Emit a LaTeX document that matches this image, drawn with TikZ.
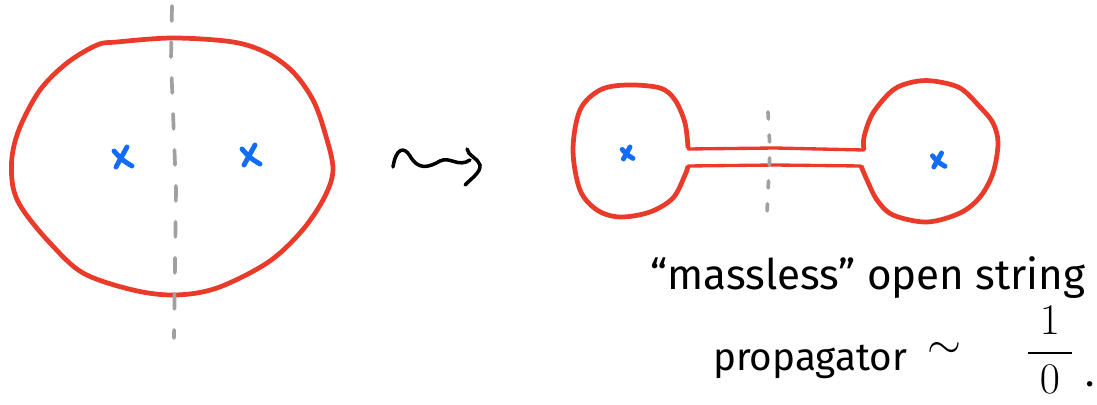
\documentclass[tikz,border=0pt]{standalone}
\usepackage{amsmath}
\usepackage{fontspec}
\setmainfont{Fira Sans}
\usepackage{tikz}
\usetikzlibrary{calc}
\definecolor{sheetred}{RGB}{234,58,42}
\definecolor{insblue}{RGB}{18,108,250}
\definecolor{cutgray}{RGB}{160,160,160}
\tikzset{
  sheet/.style={
    draw=sheetred,
    line width=2.7pt,
    line join=round
  },
  tube/.style={
    draw=sheetred,
    line width=1.9pt,
    line cap=round
  },
  cut line/.style={
    draw=cutgray,
    line width=2.1pt,
    line cap=round,
    dash pattern=on 0.3cm off 0.42cm
  },
  insertion/.style={
    draw=insblue,
    line width=2.8pt,
    line cap=round
  },
  squiggle/.style={
    draw=black,
    line width=2pt,
    line cap=round,
    line join=round
  },
  note/.style={
    font=\fontsize{22}{26}\selectfont,
    inner sep=0pt
  }
}

\begin{document}
\begin{tikzpicture}[x=0.02cm, y=-0.02cm]
    % rahmen: 1097 x 405 Pixel
    \useasboundingbox (0,0) rectangle (1097,405);

    % linkes Bild: geschlossene Flaeche
    \draw[sheet] plot[smooth cycle, tension=0.55] coordinates {
      (117,42) (173,38) (233,42) (267,53) (293,72) (313,100) (325,133)
      (333,170) (323,200) (300,233) (267,263) (217,288) (175,295) (133,290)
      (83,273) (50,243) (23,210) (13,187) (12,157) (20,127) (40,90) (67,63)
      (97,45)};
    \draw[cut line] (172,6) -- (171,60) -- (176,190) -- (174,338);

    % Einsetzungen
    \foreach \px/\py/\s in {122/157/10, 250/155/10, 627/153/6, 938/160/7} {
      \draw[insertion] (\px+\s*0.5,\py-\s) -- (\px-\s*0.6,\py+\s);
      \draw[insertion] (\px-\s*0.8,\py-\s*0.6) .. controls (\px,\py+\s*0.3) .. (\px+\s,\py+\s*0.9);
    }

    % Pfeil (leadsto)
    \draw[squiggle] (393,167) .. controls (396,148) and (404,146) .. (410,156)
      .. controls (418,170) and (428,168) .. (440,161)
      .. controls (450,156) and (458,168) .. (470,160);
    \draw[squiggle] (467,149) .. controls (468,156) and (478,158) .. (480,165)
      .. controls (481,172) and (472,178) .. (465,185);

    % rechtes Bild: zwei Scheiben mit Roehre
    \draw[sheet] plot[smooth, tension=0.55] coordinates {
      (688,148) (685,123) (675,100) (660,88) (627,85) (600,90) (580,110)
      (573,150) (580,190) (597,210) (620,217) (650,212) (673,198) (685,175)
      (688,166)};
    \draw[sheet] plot[smooth, tension=0.55] coordinates {
      (861,166) (867,180) (877,200) (893,215) (927,222) (960,213) (980,197)
      (993,173) (998,143) (993,123) (980,107) (960,88) (933,81) (913,82)
      (893,90) (873,113) (864,137) (864,150)};
    \draw[tube] (688,149) -- (775,148) -- (864,150);
    \draw[tube] (688,166) -- (775,165) -- (861,166);
    \draw[cut line, dash pattern=on 0.14cm off 0.32cm] (768,112) -- (770,150) -- (767,213);

    % Beschriftung
    \node[note, font=\fontsize{24}{28}\selectfont] (line1) at (868,278) {“massless” open string};
    \node[note] (prop) at (810,362) {propagator};
    \node[note, font=\fontsize{34}{38}\selectfont] (tilde) at (944,350) {$\sim$};
    \node[note, font=\fontsize{24}{28}\selectfont] (frac) at (1050,350) {$\dfrac{\;1\;}{\;0\;}$};
    \node[note] (dot) at (1090,384) {.};
\end{tikzpicture}
\end{document}
